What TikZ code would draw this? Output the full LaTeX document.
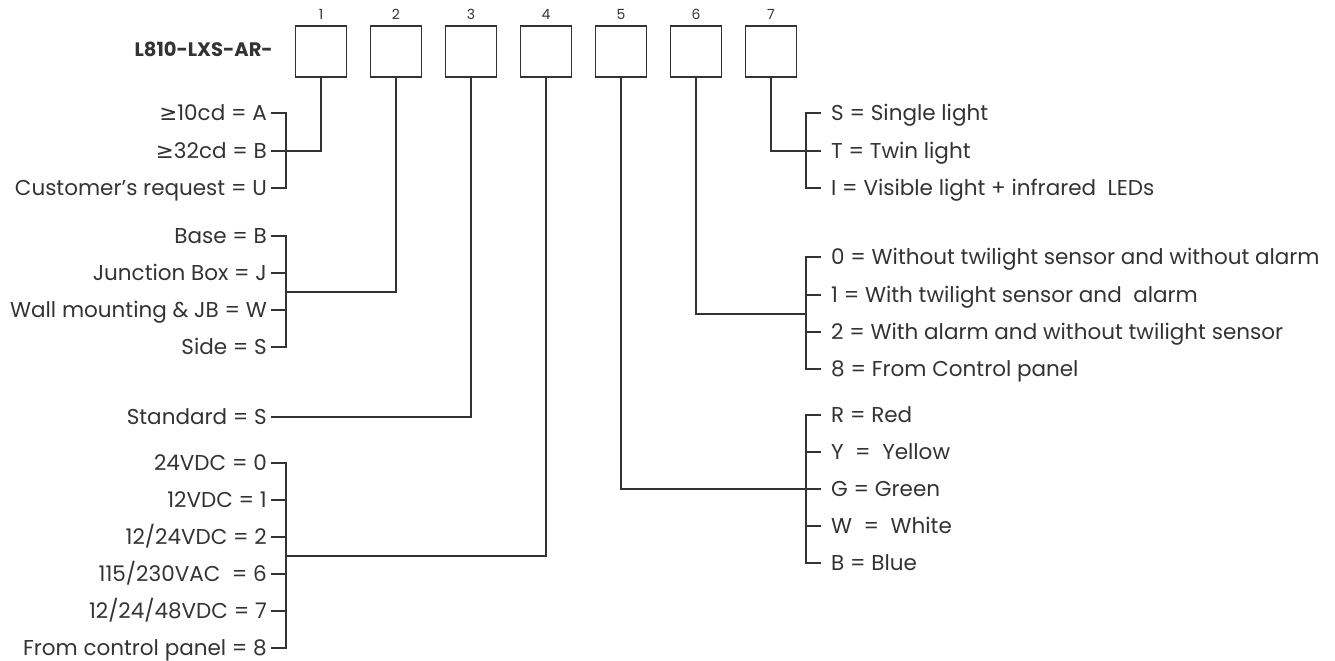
\documentclass[tikz,border=0pt]{standalone}
\usepackage{fontspec}
\setmainfont{Poppins}
\newfontfamily\symfont{DejaVu Sans}
\definecolor{ink}{HTML}{333333}
\newcommand{\gesym}{{\symfont ≥}}
\newcommand{\labfont}{\fontsize{21.5bp}{25bp}\selectfont}
\newcommand{\numfont}{\fontsize{14bp}{16bp}\selectfont}
\newcommand{\ttlfont}{\fontsize{19.5bp}{23bp}\selectfont\bfseries}
\begin{document}
\begin{tikzpicture}[x=1bp,y=-1bp,
  lab/.style={font=\labfont, text=ink, inner sep=0pt, text height=15.5bp, text depth=0pt},
  lft/.style={lab, anchor=east},
  rgt/.style={lab, anchor=west},
  digitbox/.style={draw=ink, line width=1.4bp, minimum width=51bp, minimum height=51bp, inner sep=0pt},
  num/.style={font=\numfont, text=ink, inner sep=0pt},
  wire/.style={draw=ink, line width=1.3bp}]
\useasboundingbox (0,0) rectangle (1335,661);
% title and boxes
\node[font=\ttlfont, text=ink, anchor=east, inner sep=0pt] (title) at (273,49) {L810-LXS-AR-};
\foreach \i/\x in {1/321,2/396,3/471,4/546,5/621,6/696,7/771}{
  \node[digitbox] (b\i) at (\x,51.5) {};
  \node[num] (n\i) at (\x,14) {\i};
}
% junction coordinates
\coordinate (c1) at (286,151);
\coordinate (c2) at (286,292);
\coordinate (c3) at (271,417);
\coordinate (c4) at (286,556);
\coordinate (c5) at (806,489);
\coordinate (c6) at (806,314);
\coordinate (c7) at (806,151);
% group 1
\node[lft] (g1a) at (267,113) {\gesym10cd = A};
\node[lft] (g1b) at (267,151) {\gesym32cd = B};
\node[lft] (g1c) at (267,188) {Customer’s request = U};
% group 2
\node[lft] (g2a) at (267,236) {Base = B};
\node[lft] (g2b) at (267,273) {Junction Box = J};
\node[lft] (g2c) at (267,310) {Wall mounting \& JB = W};
\node[lft] (g2d) at (267,347) {Side = S};
% group 3
\node[lft] (g3a) at (267,417) {Standard = S};
% group 4
\node[lft] (g4a) at (267,463) {24VDC = 0};
\node[lft] (g4b) at (267,500) {12VDC = 1};
\node[lft] (g4c) at (267,537) {12/24VDC = 2};
\node[lft] (g4d) at (267,574) {115/230VAC \ = 6};
\node[lft] (g4e) at (267,611) {12/24/48VDC = 7};
\node[lft] (g4f) at (267,648) {From control panel = 8};
% group 7
\node[rgt] (g7a) at (831,113) {S = Single light};
\node[rgt] (g7b) at (831,151) {T = Twin light};
\node[rgt] (g7c) at (831,188) {I = Visible light + infrared \ LEDs};
% group 6
\node[rgt] (g6a) at (831,257) {0 = Without twilight sensor and without alarm};
\node[rgt] (g6b) at (831,295) {1 = With twilight sensor and \ alarm};
\node[rgt] (g6c) at (831,332) {2 = With alarm and without twilight sensor};
\node[rgt] (g6d) at (831,369) {8 = From Control panel};
% group 5
\node[rgt] (g5a) at (831,415) {R = Red};
\node[rgt] (g5b) at (831,452) {Y \ = \ Yellow};
\node[rgt] (g5c) at (831,489) {G = Green};
\node[rgt] (g5d) at (831,526) {W \ = \ White};
\node[rgt] (g5e) at (831,563) {B = Blue};
% connectors from boxes
\draw[wire] (b1.south) |- (c1);
\draw[wire] (b2.south) |- (c2);
\draw[wire] (b3.south) |- (c3);
\draw[wire] (b4.south) |- (c4);
\draw[wire] (b5.south) |- (c5);
\draw[wire] (b6.south) |- (c6);
\draw[wire] (b7.south) |- (c7);
% left brackets
\draw[wire] ([xshift=4bp]g1a.east) -| (g1c.east -| c1) -- ([xshift=4bp]g1c.east);
\draw[wire] ([xshift=4bp]g1b.east) -- (g1b.east -| c1);
\draw[wire] ([xshift=4bp]g2a.east) -| (g2d.east -| c2) -- ([xshift=4bp]g2d.east);
\foreach \n in {g2b,g2c}{\draw[wire] ([xshift=4bp]\n.east) -- (\n.east -| c2);}
\draw[wire] ([xshift=4bp]g3a.east) -- (c3);
\draw[wire] ([xshift=4bp]g4a.east) -| (g4f.east -| c4) -- ([xshift=4bp]g4f.east);
\foreach \n in {g4b,g4c,g4d,g4e}{\draw[wire] ([xshift=4bp]\n.east) -- (\n.east -| c4);}
% right brackets
\draw[wire] ([xshift=-10bp]g7a.west) -| (g7c.west -| c7) -- ([xshift=-10bp]g7c.west);
\draw[wire] ([xshift=-10bp]g7b.west) -- (g7b.west -| c7);
\draw[wire] ([xshift=-10bp]g6a.west) -| (g6d.west -| c6) -- ([xshift=-10bp]g6d.west);
\foreach \n in {g6b,g6c}{\draw[wire] ([xshift=-10bp]\n.west) -- (\n.west -| c6);}
\draw[wire] ([xshift=-10bp]g5a.west) -| (g5e.west -| c5) -- ([xshift=-10bp]g5e.west);
\foreach \n in {g5b,g5c,g5d}{\draw[wire] ([xshift=-10bp]\n.west) -- (\n.west -| c5);}
\end{tikzpicture}
\end{document}
